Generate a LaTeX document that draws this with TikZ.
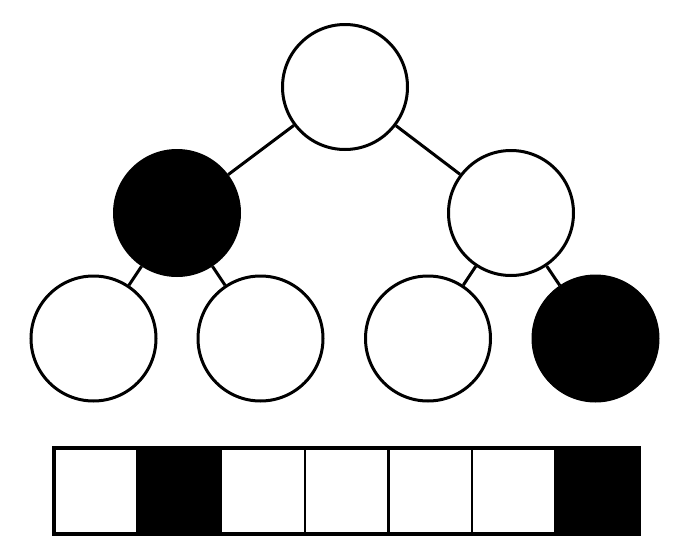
\documentclass[tikz,border=0pt]{standalone}
\begin{document}
\begin{tikzpicture}[x=1pt,y=-1pt,
  treenode/.style={circle,draw=black,line width=3pt,minimum size=125pt,inner sep=0pt},
  whitenode/.style={treenode,fill=white},
  blacknode/.style={treenode,fill=black},
  link/.style={line width=3pt,black},
  cell/.style={rectangle,draw=black,line width=2.5pt,minimum width=83.6pt,minimum height=86pt,inner sep=0pt,outer sep=0pt,anchor=west},
  whitecell/.style={cell,fill=white},
  blackcell/.style={cell,fill=black}]
\useasboundingbox (0,0) rectangle (686,552);
\fill[white] (0,0) rectangle (686,552);
% tree
\node[whitenode] (r) at (345,87) {};
\node[blacknode] (a) at (177,213) {};
\node[whitenode] (b) at (511,213) {};
\node[whitenode] (l1) at (93.5,338.5) {};
\node[whitenode] (l2) at (260.5,338.5) {};
\node[whitenode] (l3) at (428,338.5) {};
\node[blacknode] (l4) at (595.5,338.5) {};
\draw[link] (r) -- (a);
\draw[link] (r) -- (b);
\draw[link] (a) -- (l1);
\draw[link] (a) -- (l2);
\draw[link] (b) -- (l3);
\draw[link] (b) -- (l4);
% array
\node[whitecell] (c1) at (54,490.5) {};
\node[blackcell] (c2) at (c1.east) {};
\node[whitecell] (c3) at (c2.east) {};
\node[whitecell] (c4) at (c3.east) {};
\node[whitecell] (c5) at (c4.east) {};
\node[whitecell] (c6) at (c5.east) {};
\node[blackcell] (c7) at (c6.east) {};
\draw[line width=4pt] (c1.north west) rectangle (c7.south east);
\end{tikzpicture}
\end{document}
